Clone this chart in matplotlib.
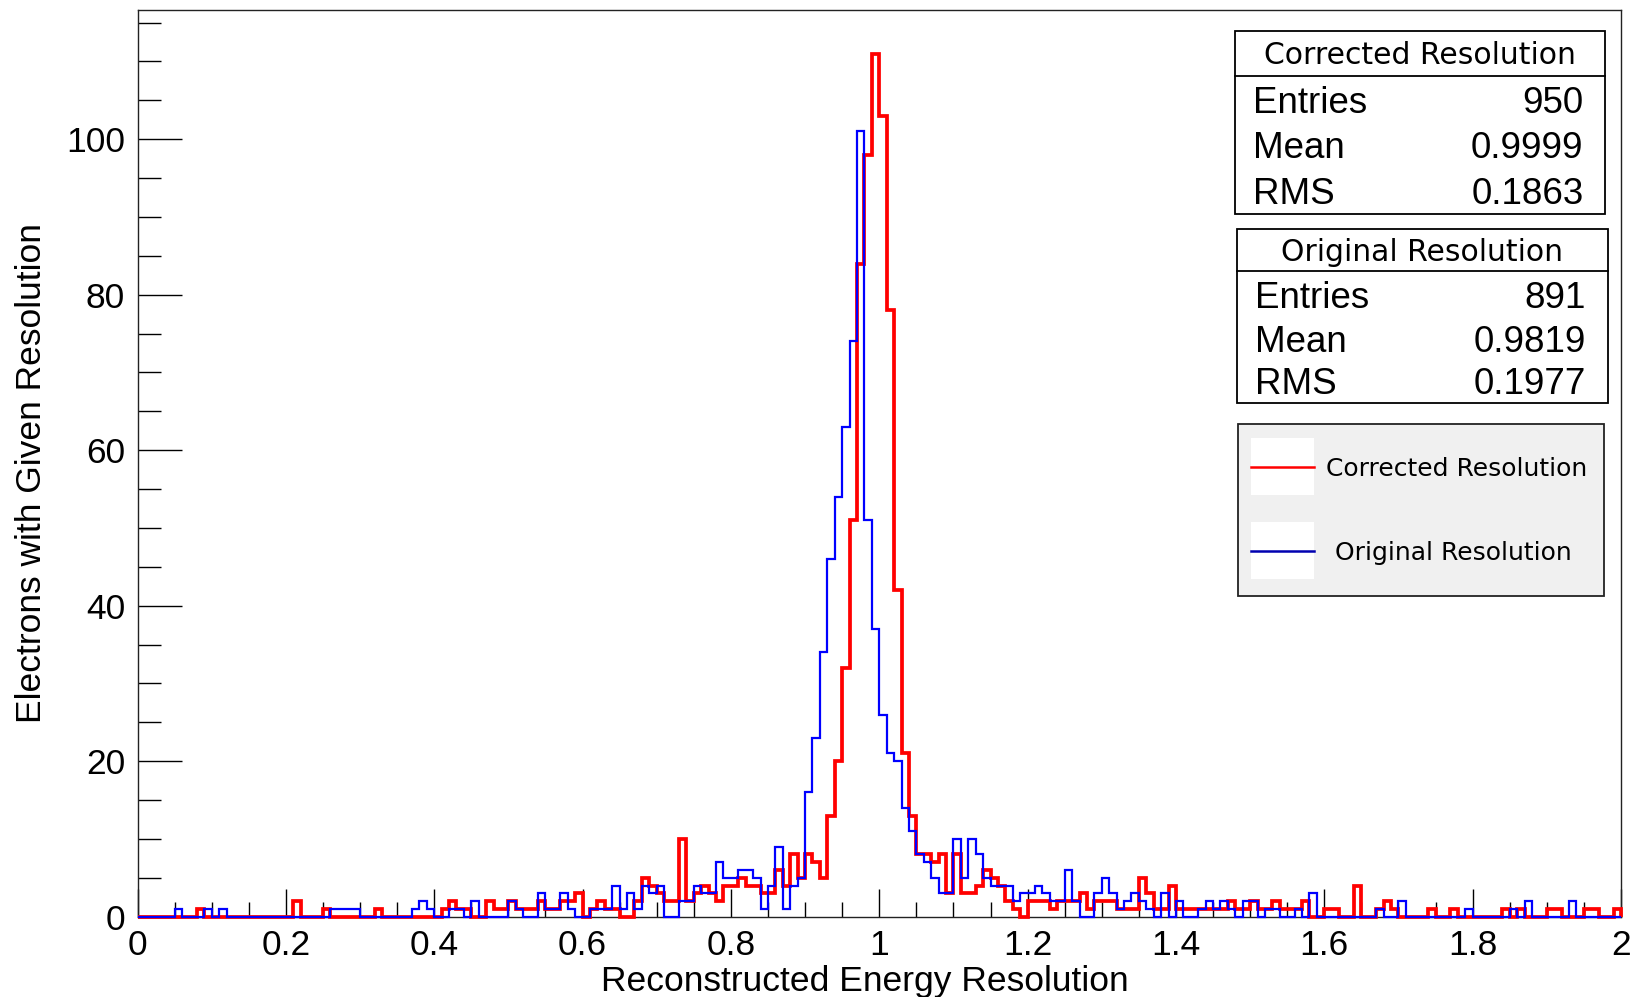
import numpy as np
import matplotlib
matplotlib.use('Agg')
import matplotlib.pyplot as plt
from matplotlib.patches import Rectangle
from matplotlib.lines import Line2D

# histogram contents: 200 bins from 0 to 2 (bin width 0.01)
corrected = [
    0, 0, 0, 0, 0, 0, 0, 0, 1, 0, 0, 0, 0, 0, 0, 0, 0, 0, 0, 0,
    0, 2, 0, 0, 0, 1, 0, 0, 0, 0, 0, 0, 1, 0, 0, 0, 0, 0, 0, 0,
    0, 1, 2, 1, 1, 0, 0, 2, 1, 1, 2, 1, 1, 1, 2, 1, 1, 2, 2, 3,
    0, 1, 2, 1, 1, 0, 0, 2, 5, 4, 3, 2, 2, 10, 2, 3, 4, 3, 2, 4,
    4, 5, 4, 4, 3, 3, 6, 4, 8, 5, 8, 7, 5, 13, 20, 32, 51, 84, 98, 111,
    103, 78, 42, 21, 13, 8, 8, 7, 8, 3, 8, 3, 3, 4, 6, 5, 4, 2, 1, 0,
    2, 2, 2, 1, 2, 2, 2, 3, 1, 2, 2, 2, 1, 1, 1, 5, 3, 1, 1, 4,
    1, 1, 1, 1, 1, 1, 1, 2, 1, 1, 2, 1, 1, 2, 1, 1, 1, 2, 0, 0,
    1, 1, 0, 0, 4, 0, 0, 1, 2, 1, 0, 0, 0, 0, 1, 0, 0, 1, 0, 0,
    0, 0, 0, 0, 1, 0, 1, 0, 0, 0, 1, 1, 0, 0, 0, 1, 1, 0, 0, 1,
]
original = [
    0, 0, 0, 0, 0, 1, 0, 0, 0, 1, 0, 1, 0, 0, 0, 0, 0, 0, 0, 0,
    0, 0, 0, 0, 0, 0, 1, 1, 1, 1, 0, 0, 0, 0, 0, 0, 0, 1, 2, 1,
    0, 0, 1, 1, 0, 2, 0, 0, 0, 0, 2, 1, 0, 0, 3, 1, 1, 3, 1, 0,
    0, 1, 1, 1, 4, 1, 3, 1, 4, 3, 4, 0, 0, 2, 2, 4, 3, 3, 7, 5,
    5, 6, 6, 5, 1, 4, 9, 1, 4, 5, 16, 23, 34, 46, 54, 63, 74, 101, 51, 37,
    26, 21, 20, 14, 11, 8, 7, 5, 3, 3, 10, 5, 10, 8, 5, 4, 4, 4, 2, 3,
    3, 4, 3, 2, 2, 6, 2, 0, 0, 3, 5, 3, 1, 2, 3, 2, 1, 0, 3, 0,
    2, 0, 0, 1, 2, 1, 2, 1, 0, 2, 2, 0, 1, 1, 0, 0, 1, 0, 3, 0,
    0, 0, 0, 0, 0, 0, 0, 1, 0, 0, 2, 0, 0, 0, 0, 0, 0, 0, 0, 1,
    0, 0, 0, 0, 0, 1, 0, 2, 0, 0, 0, 0, 0, 2, 0, 0, 0, 0, 0, 0,
]
x_ticks = [0, 0.2, 0.4, 0.6, 0.8, 1, 1.2, 1.4, 1.6, 1.8, 2]
x_tick_labels = ['0', '0.2', '0.4', '0.6', '0.8', '1', '1.2', '1.4', '1.6', '1.8', '2']
y_ticks = [0, 20, 40, 60, 80, 100]

stat_names = ['Entries', 'Mean', 'RMS']
corrected_stats = ['950', '0.9999', '0.1863']
original_stats = ['891', '0.9819', '0.1977']
names = ['Corrected Resolution', 'Original Resolution']

W, H = 1642, 997
def fx(x):
    return x / W
def fy(y):
    return 1 - y / H

sans = ['Liberation Sans', 'DejaVu Sans']

fig = plt.figure(figsize=(W / 100, H / 100), dpi=100)
ax = fig.add_axes([fx(137.5), fy(916.7), (1621 - 137.5) / W, (916.7 - 10.5) / H])

edges = np.linspace(0, 2, len(corrected) + 1)
ax.stairs(corrected, edges, color='#ff0000', lw=2.7, clip_on=False, zorder=3)
ax.stairs(original, edges, color='#0000ff', lw=1.6, clip_on=False, zorder=4)

ax.set_xlim(0, 2)
ax.set_ylim(0, max(corrected) * 1.05)
ax.set_xticks(x_ticks)
ax.set_xticklabels(x_tick_labels)
ax.set_xticks(np.arange(0, 2.001, 0.05), minor=True)
ax.set_yticks(y_ticks)
ax.set_yticks(np.arange(0, 116, 5), minor=True)
ax.tick_params(axis='x', which='major', direction='in', length=20, width=1, pad=9,
               labelsize=25.5, top=False)
ax.tick_params(axis='x', which='minor', direction='in', length=10.5, width=1, top=False)
ax.tick_params(axis='y', which='major', direction='in', length=32, width=1, pad=9,
               labelsize=25.5, right=False)
ax.tick_params(axis='y', which='minor', direction='in', length=16.5, width=1, right=False)
for lab in ax.get_xticklabels() + ax.get_yticklabels():
    lab.set_family(sans)
for sp in ax.spines.values():
    sp.set_linewidth(1.0)
    sp.set_color('#222222')

ax.set_xlabel('Reconstructed Energy Resolution', fontsize=25.5, family=sans)
ax.xaxis.set_label_coords(0.4905, -0.071)
ax.xaxis.label.set_va('center')
ax.set_ylabel('Electrons with Given Resolution', fontsize=25.5, family=sans)
ax.yaxis.set_label_coords(-0.0715, 0.49)
ax.yaxis.label.set_va('center')

# stats boxes
def stats_box(x0, x1, y0, ysep, y1, title, values, rows_y):
    fig.add_artist(Rectangle((fx(x0), fy(y1)), fx(x1) - fx(x0), fy(y0) - fy(y1),
                             transform=fig.transFigure, facecolor='white',
                             edgecolor='black', lw=1.3))
    fig.add_artist(Line2D([fx(x0), fx(x1)], [fy(ysep), fy(ysep)],
                          transform=fig.transFigure, color='black', lw=1.3))
    fig.text(fx((x0 + x1) / 2), fy((y0 + ysep) / 2 + 2), title, ha='center', va='center',
             fontsize=21.5, family='DejaVu Sans')
    for name, val, yy in zip(stat_names, values, rows_y):
        fig.text(fx(x0 + 18), fy(yy), name, ha='left', va='center', fontsize=26.5, family=sans)
        fig.text(fx(x1 - 22), fy(yy), val, ha='right', va='center', fontsize=26.5, family=sans)

stats_box(1234.6, 1605.4, 31.4, 76.4, 213.6, names[0], corrected_stats, [103.5, 148.5, 194.0])
stats_box(1236.8, 1607.5, 229.3, 271.2, 403.2, names[1], original_stats, [298.0, 342.0, 385.0])

# legend
fig.add_artist(Rectangle((fx(1237.8), fy(595.9)), fx(1604.3) - fx(1237.8), fy(424.1) - fy(595.9),
                         transform=fig.transFigure, facecolor='#f0f0f0',
                         edgecolor='#222222', lw=1.3))
for name, col, ly, tx in zip(names, ['#ff0000', '#0000b0'], [467, 550.8], [1325.8, 1335]):
    fig.add_artist(Rectangle((fx(1251.4), fy(ly + 28.5)), fx(1314.3) - fx(1251.4), fy(ly - 28.5) - fy(ly + 28.5),
                             transform=fig.transFigure, facecolor='white', edgecolor='none'))
    fig.add_artist(Line2D([fx(1251.4), fx(1314.3)], [fy(ly), fy(ly)],
                          transform=fig.transFigure, color=col, lw=1.8))
    fig.text(fx(tx), fy(ly + 2), name, ha='left', va='center', fontsize=18, family='DejaVu Sans')

fig.savefig('out.png', dpi=100)
